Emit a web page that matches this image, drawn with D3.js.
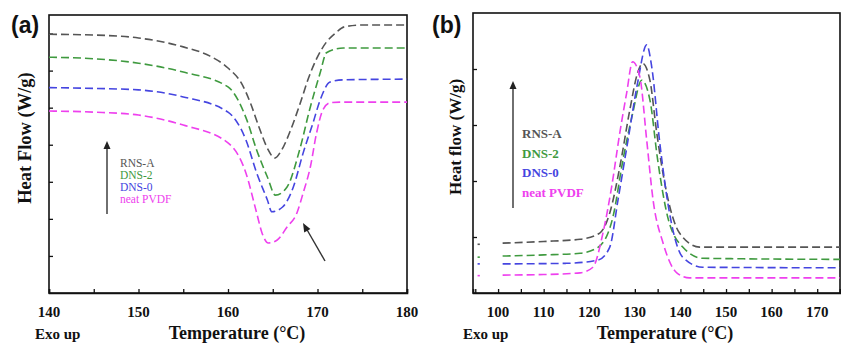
<!DOCTYPE html>
<html><head><meta charset="utf-8">
<script src="https://cdn.jsdelivr.net/npm/d3@7"></script>
<style>body{margin:0;background:#fff}svg{display:block}</style>
</head><body>
<svg id="c" width="841" height="343"></svg>
<script>
// ---------- DATA ----------
const seriesNames = ["RNS-A", "DNS-2", "DNS-0", "neat PVDF"];
const seriesColors = ["#555555", "#3f9a3f", "#4545e0", "#ee40ee"];

// Panel (a): melting (temperature, heat flow, arbitrary units)
const aRNSA = [[140,6.98],[145,6.96],[150,6.88],[155,6.64],[158,6.39],[160,6.07],[161.5,5.66],[162.5,5.13],[163.5,4.45],[164.5,3.86],[165.2,3.64],[166,3.86],[167,4.40],[168,5.07],[169,5.80],[170,6.37],[171,6.77],[172,7.01],[173,7.18],[175,7.23],[180,7.23]];
const aDNS2 = [[140,6.36],[145,6.32],[150,6.20],[155,5.96],[160,5.56],[162.1,4.67],[163.2,3.86],[164.4,3.13],[165.3,2.64],[166.6,2.86],[168,3.86],[169.2,5.02],[170.3,5.94],[171,6.48],[172.9,6.61],[180,6.61]];
const aDNS0 = [[140,5.54],[145,5.52],[150,5.48],[155,5.29],[160,4.88],[162,4.13],[163.2,3.24],[164.4,2.51],[164.9,2.19],[166.1,2.32],[167.3,2.86],[168.4,3.78],[169.5,4.59],[170.3,5.21],[171.4,5.69],[172.8,5.75],[180,5.77]];
const aPVDF = [[140,4.91],[145,4.88],[150,4.80],[155,4.53],[160,4.05],[162,3.24],[163.2,2.16],[163.8,1.62],[164.5,1.35],[165.5,1.43],[166.6,1.78],[167.7,2.16],[168.4,2.70],[169.2,3.40],[169.9,4.32],[170.6,4.94],[171.4,5.13],[172.5,5.15],[180,5.15]];

// Panel (b): crystallization
const bRNSA = [[101,0.89],[110,0.92],[118,0.96],[122.3,1.07],[124.5,1.43],[126.7,2.25],[128.9,3.27],[130.6,3.93],[131.7,4.10],[133.3,3.80],[134.8,2.86],[137,1.78],[139.8,1.07],[144.2,0.82],[175,0.82]];
const bDNS2 = [[101,0.66],[110,0.68],[118,0.71],[122,0.82],[125.2,1.36],[127.4,2.38],[129.5,3.20],[131.5,3.80],[133.3,3.45],[135,2.38],[137.2,1.36],[140.5,0.82],[144.9,0.62],[175,0.60]];
const bDNS0 = [[101,0.52],[115,0.53],[122,0.59],[124.5,0.82],[126.3,1.66],[128.5,2.73],[130.6,3.75],[132.6,4.43],[133.7,4.04],[135.4,2.73],[137.6,1.43],[140.5,0.64],[144.9,0.46],[175,0.45]];
const bPVDF = [[101,0.32],[110,0.33],[118,0.36],[120.8,0.46],[123,1.07],[124.9,1.89],[126.7,2.86],[128.2,3.57],[129.5,4.13],[131.1,3.86],[132.6,2.73],[134,1.66],[136.2,0.89],[139.2,0.36],[142,0.27],[175,0.27]];
const bStartMarks = [0.87, 0.64, 0.52, 0.31];

const aXTicks = [140, 150, 160, 170, 180];
const bXTicks = [100, 110, 120, 130, 140, 150, 160, 170];
const aYTicks = [1, 2, 3, 4, 5, 6, 7];
const bYTicks = [1, 2, 3, 4];

// ---------- DRAW ----------
const svg = d3.select("#c");
const serif = "'Liberation Serif','Times New Roman',serif";

function panel(cfg) {
  const g = svg.append("g");
  const x = d3.scaleLinear().domain(cfg.xDom).range([cfg.left, cfg.right]);
  const y = d3.scaleLinear().domain(cfg.yDom).range([cfg.bottom, cfg.top]);

  g.append("rect").attr("x", cfg.left).attr("y", cfg.top)
    .attr("width", cfg.right - cfg.left).attr("height", cfg.bottom - cfg.top)
    .attr("fill", "none").attr("stroke", "#111").attr("stroke-width", 1.6);

  const minor = d3.range(Math.ceil(cfg.xDom[0] / 5) * 5, cfg.xDom[1] + 0.01, 5);
  const xa = g.append("g").attr("transform", `translate(0,${cfg.bottom})`)
    .call(d3.axisBottom(x).tickValues(minor).tickSize(-4).tickFormat(""));
  xa.select(".domain").attr("stroke", "#111").attr("stroke-width", 1.6);
  xa.selectAll(".tick line").attr("stroke", "#111").attr("stroke-width", 1.3);
  g.selectAll(".xlab").data(cfg.xTicks).join("text")
    .attr("x", d => x(d)).attr("y", cfg.bottom + 24)
    .attr("text-anchor", "middle").attr("font-family", serif).attr("font-weight", "bold")
    .attr("font-size", 15).attr("fill", "#111").text(d => d);

  const ya = g.append("g").attr("transform", `translate(${cfg.left},0)`)
    .call(d3.axisLeft(y).tickValues(cfg.yTicks).tickSize(-4).tickFormat(""));
  ya.select(".domain").remove();
  ya.selectAll(".tick line").attr("stroke", "#111").attr("stroke-width", 1.3);

  const line = d3.line().x(d => x(d[0])).y(d => y(d[1])).curve(d3.curveMonotoneX);
  cfg.series.forEach((s, i) => {
    g.append("path").attr("d", line(s)).attr("fill", "none")
      .attr("stroke", seriesColors[i]).attr("stroke-width", 1.6)
      .attr("stroke-dasharray", "8,4");
  });

  g.append("text").attr("x", cfg.tagX).attr("y", 33)
    .attr("font-family", "'Liberation Sans',Arial,sans-serif").attr("font-weight", "bold")
    .attr("font-size", 23).attr("fill", "#111").text(cfg.tag);
  g.append("text").attr("transform", `translate(${cfg.yLabX},${cfg.yLabY}) rotate(-90)`)
    .attr("text-anchor", "middle").attr("font-family", serif).attr("font-weight", "bold")
    .attr("font-size", cfg.yLabFs).attr("fill", "#111").text(cfg.yLabel);
  g.append("text").attr("x", cfg.exoX).attr("y", 339)
    .attr("font-family", serif).attr("font-weight", "bold")
    .attr("font-size", 15).attr("fill", "#111").text("Exo up");
  g.append("text").attr("x", cfg.titleX).attr("y", 339).attr("text-anchor", "middle")
    .attr("font-family", serif).attr("font-weight", "bold")
    .attr("font-size", 18).attr("fill", "#111").text("Temperature (°C)");

  g.append("line").attr("x1", cfg.arrowX).attr("x2", cfg.arrowX)
    .attr("y1", cfg.arrowY2).attr("y2", cfg.arrowY1 + 6)
    .attr("stroke", "#333").attr("stroke-width", 1.4);
  g.append("path").attr("d", `M${cfg.arrowX},${cfg.arrowY1} l-3.5,8 h7 z`).attr("fill", "#222");
  seriesNames.forEach((n, i) => {
    g.append("text").attr("x", cfg.legX).attr("y", cfg.legY + i * cfg.legDy)
      .attr("font-family", serif).attr("font-size", cfg.legFs).attr("font-weight", cfg.legFw)
      .attr("fill", seriesColors[i]).text(n);
  });
  return { g, x, y };
}

const A = panel({
  xDom: [140, 180], yDom: [0, 7.5], left: 49, right: 407, top: 15, bottom: 293,
  xTicks: aXTicks, yTicks: aYTicks, series: [aRNSA, aDNS2, aDNS0, aPVDF],
  tag: "(a)", tagX: 11, yLabel: "Heat Flow (W/g)", yLabX: 31, yLabY: 138, yLabFs: 18.5,
  exoX: 35, titleX: 237, arrowX: 107, arrowY1: 141, arrowY2: 214,
  legX: 120, legY: 167, legDy: 12, legFs: 11.5, legFw: "normal"
});
A.g.append("line").attr("x1", 325).attr("y1", 261).attr("x2", 306).attr("y2", 228)
  .attr("stroke", "#333").attr("stroke-width", 1.4);
A.g.append("path").attr("d", "M303,223 l1.2,9.5 l6.2,-3.6 z").attr("fill", "#222");

const B = panel({
  xDom: [94.5, 175], yDom: [0, 5], left: 473, right: 840, top: 13, bottom: 293,
  xTicks: bXTicks, yTicks: bYTicks, series: [bRNSA, bDNS2, bDNS0, bPVDF],
  tag: "(b)", tagX: 432, yLabel: "Heat flow (W/g)", yLabX: 461, yLabY: 137, yLabFs: 17,
  exoX: 463, titleX: 665, arrowX: 513, arrowY1: 81, arrowY2: 208,
  legX: 522, legY: 138, legDy: 19.7, legFs: 13, legFw: "bold"
});
B.g.selectAll(".sm").data(bStartMarks).join("line")
  .attr("x1", B.x(95.5)).attr("x2", B.x(96)).attr("y1", d => B.y(d)).attr("y2", d => B.y(d))
  .attr("stroke", (d, i) => seriesColors[i]).attr("stroke-width", 1.6);
</script>
</body></html>
